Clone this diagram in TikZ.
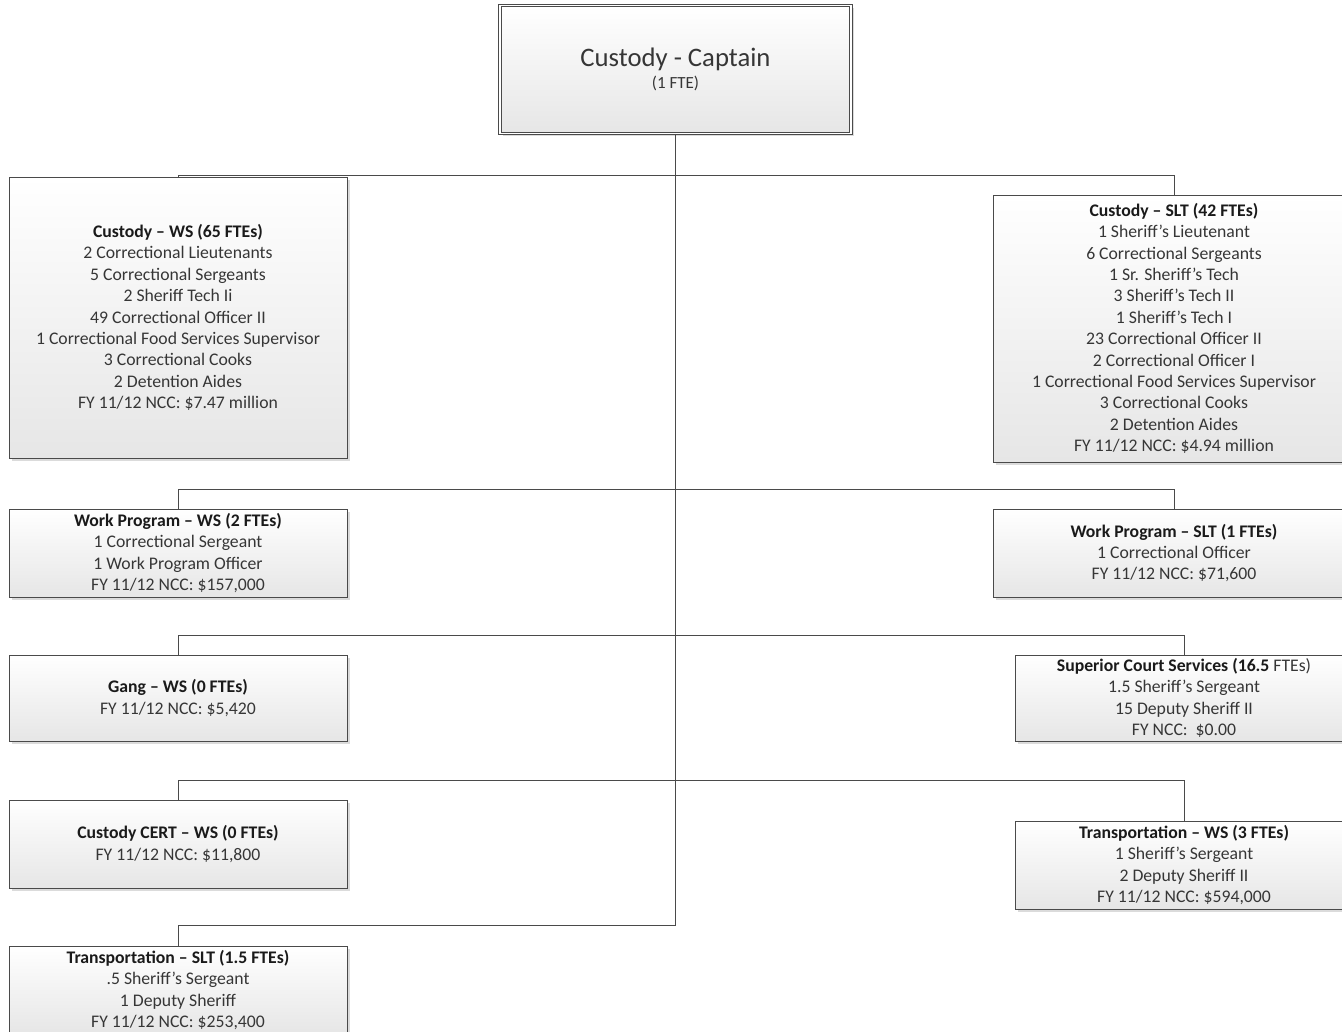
\documentclass[tikz,border=0pt]{standalone}
\usepackage{fontspec}
\setmainfont{Carlito}
\usetikzlibrary{shadows}
\definecolor{bord}{HTML}{4A4A4A}
\definecolor{txt}{HTML}{363636}
\definecolor{ttl}{HTML}{1A1A1A}
\definecolor{fillb}{HTML}{E6E6E6}
\tikzset{
 orgbox/.style={draw=bord, line width=0.9pt, top color=white, bottom color=fillb,
   drop shadow={shadow xshift=3pt,shadow yshift=-3pt,fill=black!14,opacity=1},
   inner sep=0pt, align=center, text=txt, font=\fontsize{17.7}{21.4}\selectfont},
 capbox/.style={orgbox, double=white, double distance=1.5pt, line width=0.8pt},
 conn/.style={draw=bord, line width=0.9pt},
}
\newcommand{\hd}[1]{\textbf{\color{ttl}#1}}
\begin{document}
\begin{tikzpicture}[x=1pt,y=-1pt]
\useasboundingbox (0,0) rectangle (1342,1032);
% boxes
\node[capbox, minimum width=351pt, minimum height=128pt] (cap) at (675.5,69.5)
 {{\fontsize{26.7}{30}\selectfont Custody - Captain}\\[1pt]{\fontsize{17}{20}\selectfont (1 FTE)}};
\node[orgbox, minimum width=338pt, minimum height=281pt] (cws) at (178,317.5)
 {\hd{Custody – WS (65 FTEs)}\\2 Correctional Lieutenants\\5 Correctional Sergeants\\2 Sheriff Tech Ii\\49 Correctional Officer II\\1 Correctional Food Services Supervisor\\3 Correctional Cooks\\2 Detention Aides\\FY 11/12 NCC: \$7.47 million};
\node[orgbox, minimum width=362pt, minimum height=267pt] (cslt) at (1174,328.5)
 {\hd{Custody – SLT (42 FTEs)}\\1 Sheriff’s Lieutenant\\6 Correctional Sergeants\\1 Sr. Sheriff’s Tech\\3 Sheriff’s Tech II\\1 Sheriff’s Tech I\\23 Correctional Officer II\\2 Correctional Officer I\\1 Correctional Food Services Supervisor\\3 Correctional Cooks\\2 Detention Aides\\FY 11/12 NCC: \$4.94 million};
\node[orgbox, minimum width=338pt, minimum height=88pt] (wpws) at (178,553)
 {\hd{Work Program – WS (2 FTEs)}\\1 Correctional Sergeant\\1 Work Program Officer\\FY 11/12 NCC: \$157,000};
\node[orgbox, minimum width=362pt, minimum height=88pt] (wpslt) at (1174,553)
 {\hd{Work Program – SLT (1 FTEs)}\\1 Correctional Officer\\FY 11/12 NCC: \$71,600};
\node[orgbox, minimum width=338pt, minimum height=86pt] (gang) at (178,698)
 {\hd{Gang – WS (0 FTEs)}\\FY 11/12 NCC: \$5,420};
\node[orgbox, minimum width=338pt, minimum height=86pt] (scs) at (1184,698)
 {\hd{Superior Court Services (16.5} FTEs)\\1.5 Sheriff’s Sergeant\\15 Deputy Sheriff II\\FY NCC:~~\$0.00};
\node[orgbox, minimum width=338pt, minimum height=88pt] (cert) at (178,844)
 {\hd{Custody CERT – WS (0 FTEs)}\\FY 11/12 NCC: \$11,800};
\node[orgbox, minimum width=338pt, minimum height=88pt] (tws) at (1184,865)
 {\hd{Transportation – WS (3 FTEs)}\\1 Sheriff’s Sergeant\\2 Deputy Sheriff II\\FY 11/12 NCC: \$594,000};
\node[orgbox, minimum width=338pt, minimum height=88pt] (tslt) at (178,990)
 {\hd{Transportation – SLT (1.5 FTEs)}\\.5 Sheriff’s Sergeant\\1 Deputy Sheriff\\FY 11/12 NCC: \$253,400};
% junctions on the trunk
\coordinate (j1) at (cap.south |- 0,175);
\coordinate (j2) at (cap.south |- 0,489);
\coordinate (j3) at (cap.south |- 0,635);
\coordinate (j4) at (cap.south |- 0,780);
\coordinate (j5) at (cap.south |- 0,925);
% connectors
\draw[conn] (cap.south) -- (j5);
\draw[conn] (j1) -| (cws.north);
\draw[conn] (j1) -| (cslt.north);
\draw[conn] (j2) -| (wpws.north);
\draw[conn] (j2) -| (wpslt.north);
\draw[conn] (j3) -| (gang.north);
\draw[conn] (j3) -| (scs.north);
\draw[conn] (j4) -| (cert.north);
\draw[conn] (j4) -| (tws.north);
\draw[conn] (j5) -| (tslt.north);
\end{tikzpicture}
\end{document}
